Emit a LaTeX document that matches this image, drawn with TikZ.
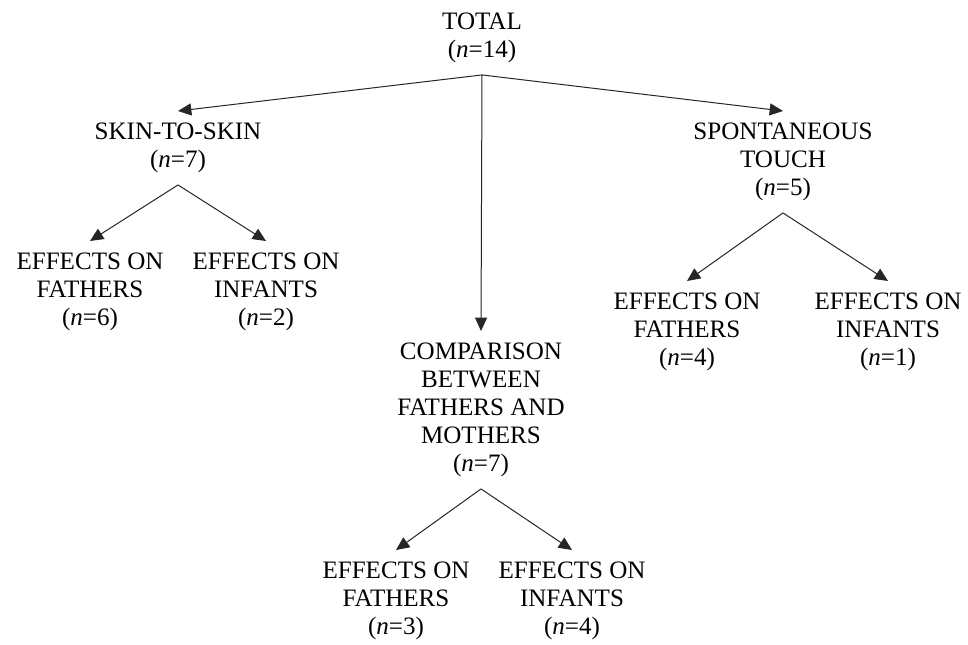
\documentclass[tikz,border=0pt]{standalone}
\usepackage{fontspec}
\setmainfont{Liberation Serif}
\usetikzlibrary{arrows.meta,positioning}
\tikzset{
  countnode/.style={align=center, anchor=north, inner sep=0pt, outer xsep=0pt, outer ysep=9pt, font=\fontsize{18.8}{21}\selectfont},
  branch/.style={black!85, -{Triangle[length=10pt,width=9pt]}, line width=0.75pt}
}
\newcommand{\nval}[1]{(\textit{n}=#1)}

\begin{document}
\begin{tikzpicture}[x=0.75pt,y=-0.75pt]
  \useasboundingbox (0,0) rectangle (968,644);
  % top level
  \node[countnode] (total) at (482,1) {TOTAL\\\nval{14}};
  \node[countnode] (skin) at (178,111) {SKIN-TO-SKIN\\\nval{7}};
  \node[countnode] (spont) at (783,111) {SPONTANEOUS\\TOUCH\\\nval{5}};
  \node[countnode] (comp) at (481,331) {COMPARISON\\BETWEEN\\FATHERS AND\\MOTHERS\\\nval{7}};
  % effects
  \node[countnode] (skinfa) at (90,241) {EFFECTS ON\\FATHERS\\\nval{6}};
  \node[countnode] (skininf) at (266,241) {EFFECTS ON\\INFANTS\\\nval{2}};
  \node[countnode] (spontfa) at (687,281) {EFFECTS ON\\FATHERS\\\nval{4}};
  \node[countnode] (spontinf) at (888,281) {EFFECTS ON\\INFANTS\\\nval{1}};
  \node[countnode] (compfa) at (396,550) {EFFECTS ON\\FATHERS\\\nval{3}};
  \node[countnode] (compinf) at (572,550) {EFFECTS ON\\INFANTS\\\nval{4}};
  \draw[branch] (total.south) -- (skin.north);
  \draw[branch] (total.south) -- (spont.north);
  \draw[branch] (total.south) -- (comp.north);
  \draw[branch] (skin.south) -- (skinfa.north);
  \draw[branch] (skin.south) -- (skininf.north);
  \draw[branch] (spont.south) -- (spontfa.north);
  \draw[branch] (spont.south) -- (spontinf.north);
  \draw[branch] (comp.south) -- (compfa.north);
  \draw[branch] (comp.south) -- (compinf.north);
\end{tikzpicture}
\end{document}
